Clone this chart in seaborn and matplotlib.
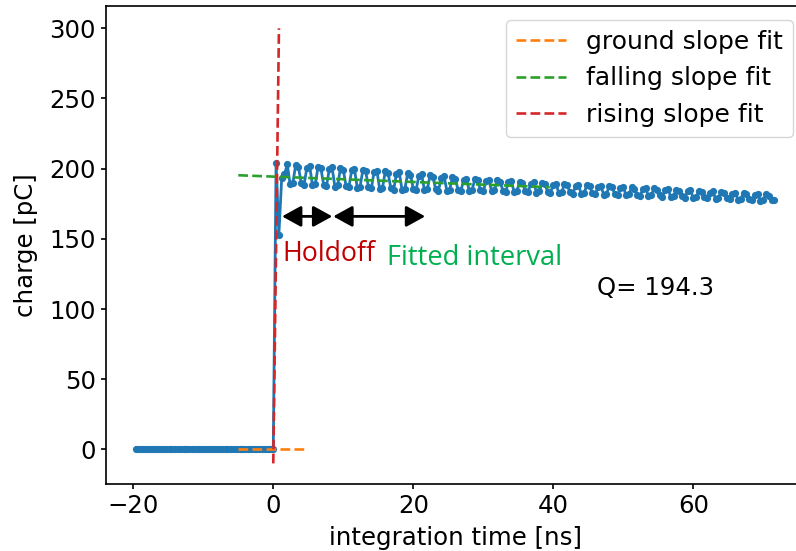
import numpy as np
import pandas as pd
import matplotlib
matplotlib.use("Agg")
import matplotlib.pyplot as plt
import seaborn as sns

# ---------------- data ----------------
t_start = -19.6          # ns, first sample
t_step = 0.4             # ns, sampling interval

baseline_charge = [0.0] * 50                 # -19.6 ... 0.0 ns
edge_charge = [204.0, 153.0]                 # 0.4, 0.8 ns
tail_charge = [
    193.0,
    196.0, 203.0, 189.0, 190.0,
    202.5, 201.0, 189.5, 188.5,
    200.8, 201.9, 188.2, 189.1,
    201.4, 200.2, 188.6, 187.5,
    199.6, 200.9, 187.2, 188.1,
    200.3, 199.2, 187.5, 186.8,
    198.7, 199.6, 186.3, 187.2,
    199.0, 198.1, 186.8, 185.9,
    197.5, 198.6, 185.4, 186.3,
    198.0, 196.9, 185.9, 184.9,
    196.5, 197.3, 184.7, 185.6,
    196.7, 195.8, 185.4, 184.6,
    195.0, 195.9, 184.5, 185.3,
    195.2, 194.4, 185.2, 184.4,
    193.7, 194.5, 184.3, 185.1,
    193.8, 192.9, 184.9, 184.1,
    192.1, 192.9, 184.1, 184.8,
    192.5, 191.7, 184.7, 183.9,
    191.2, 192.0, 183.8, 184.5,
    191.6, 190.8, 184.4, 183.6,
    190.3, 191.1, 183.5, 184.2,
    190.6, 189.8, 184.0, 183.2,
    189.4, 190.2, 183.0, 183.8,
    189.6, 188.8, 183.6, 182.8,
    188.5, 189.3, 182.5, 183.2,
    188.9, 188.1, 183.1, 182.3,
    187.7, 188.5, 181.9, 182.7,
    188.1, 187.3, 182.5, 181.7,
    187.0, 187.8, 181.4, 182.2,
    187.4, 186.6, 182.0, 181.2,
    186.3, 187.1, 180.9, 181.7,
    186.6, 185.8, 181.4, 180.6,
    185.5, 186.3, 180.3, 181.1,
    185.9, 185.1, 180.9, 180.1,
    184.7, 185.5, 179.7, 180.5,
    185.0, 184.2, 180.2, 179.4,
    183.9, 184.7, 179.1, 179.9,
    184.2, 183.4, 179.6, 178.8,
    183.0, 183.8, 178.4, 179.2,
    183.3, 182.5, 178.9, 178.1,
    182.2, 183.0, 177.8, 178.6,
    182.5, 181.7, 178.3, 177.5,
    181.3, 182.1, 177.1, 177.9,
    181.6, 180.8, 178.0, 177.5,
]

ground_x = [-5.0, 4.6]
ground_y = [0.0, 0.0]
falling_x = [-5.0, 39.5]
falling_y = [195.3, 186.8]
rising_x = [0.0, 0.81]
rising_y = [-10.0, 300.0]

fit_labels = ["ground slope fit", "falling slope fit", "rising slope fit"]
Q_value = 194.3

holdoff_span = [1.25, 8.43]
fitted_span = [8.57, 21.7]
arrow_level = 166.0

# ---------------- style ----------------
sns.set_style("ticks")
plt.rcParams.update({
    "font.family": ["DejaVu Sans"],
    "font.size": 17.6,
    "axes.edgecolor": "black",
    "axes.linewidth": 1.2,
    "xtick.color": "black",
    "ytick.color": "black",
    "xtick.major.size": 3.6,
    "ytick.major.size": 3.6,
    "xtick.major.width": 1.2,
    "ytick.major.width": 1.2,
    "xtick.major.pad": 3.5,
    "ytick.major.pad": 3.5,
    "axes.labelcolor": "black",
    "text.color": "black",
})

charge = baseline_charge + edge_charge + tail_charge
time = t_start + t_step * np.arange(len(charge))
df = pd.DataFrame({"time": time, "charge": charge})

fig = plt.figure(figsize=(7.96, 5.51), dpi=100)
ax = fig.add_axes([105.7 / 796, 1 - 484.3 / 551, (805 - 105.7) / 796, (484.3 - 6) / 551])

sns.lineplot(data=df, x="time", y="charge", ax=ax, color="#1f77b4",
             marker="o", markersize=5.2, markeredgewidth=0, linewidth=2.0,
             estimator=None, sort=False, legend=False)

fits = [(ground_x, ground_y, "#ff7f0e"),
        (falling_x, falling_y, "#2ca02c"),
        (rising_x, rising_y, "#d62728")]
for (fx, fy, col), lab in zip(fits, fit_labels):
    sns.lineplot(x=fx, y=fy, ax=ax, color=col, linestyle="--", linewidth=1.9,
                 label=lab, estimator=None, sort=False)

ax.set_xlim(-23.94, 75.96)
ax.set_ylim(-24.9, 315.9)
ax.set_xticks([-20, 0, 20, 40, 60])
ax.set_yticks([0, 50, 100, 150, 200, 250, 300])
ax.set_xlabel("integration time [ns]", labelpad=6)
ax.set_ylabel("charge [pC]", labelpad=8)
for name, s in ax.spines.items():
    s.set_visible(name != "right")

leg = ax.legend(loc="upper right", fontsize=18, handlelength=2.0,
                bbox_to_anchor=(793 / 796, 1 - 20 / 551),
                bbox_transform=fig.transFigure, borderaxespad=0,
                framealpha=0.8, fancybox=True)
leg.get_frame().set_edgecolor("#cccccc")

arrowprops = dict(arrowstyle="<|-|>,head_length=0.4,head_width=0.22",
                  color="black", lw=2.0, mutation_scale=29,
                  shrinkA=0, shrinkB=0)
ax.annotate("", xy=(holdoff_span[1], arrow_level), xytext=(holdoff_span[0], arrow_level),
            arrowprops=arrowprops)
ax.annotate("", xy=(fitted_span[1], arrow_level), xytext=(fitted_span[0], arrow_level),
            arrowprops=arrowprops)

ax.text(1.34, 134.4, "Holdoff", color="#C00000", fontsize=19.3,
        family=["Open Sans", "DejaVu Sans"], ha="left", va="baseline")
ax.text(16.2, 131.3, "Fitted interval", color="#00B050", fontsize=19.6,
        family=["Open Sans", "DejaVu Sans"], ha="left", va="baseline")
ax.text(46.3, 110.0, f"Q= {Q_value}", fontsize=17.6, ha="left", va="baseline")

fig.savefig("out.png", dpi=100)
